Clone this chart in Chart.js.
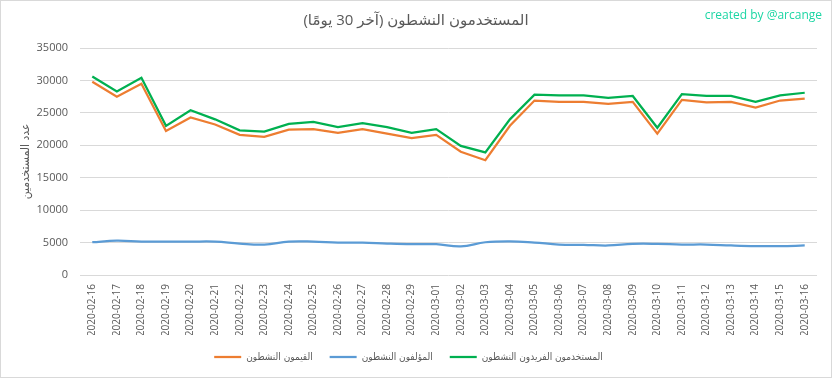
<!DOCTYPE html>
<html><head><meta charset="utf-8">
<script src="https://cdn.jsdelivr.net/npm/chart.js@4.4.0/dist/chart.umd.min.js"></script>
<style>html,body{margin:0;padding:0;background:#fff}canvas{display:block}</style>
</head><body>
<canvas id="c" width="833" height="379"></canvas>
<script>
const dates = ['2020-02-16','2020-02-17','2020-02-18','2020-02-19','2020-02-20','2020-02-21','2020-02-22','2020-02-23','2020-02-24','2020-02-25','2020-02-26','2020-02-27','2020-02-28','2020-02-29','2020-03-01','2020-03-02','2020-03-03','2020-03-04','2020-03-05','2020-03-06','2020-03-07','2020-03-08','2020-03-09','2020-03-10','2020-03-11','2020-03-12','2020-03-13','2020-03-14','2020-03-15','2020-03-16'];
const activeCurators = [29800,27500,29500,22200,24300,23200,21600,21300,22400,22500,21900,22500,21800,21100,21600,19000,17700,23000,26900,26700,26700,26400,26700,21800,27000,26600,26700,25800,26900,27200];
const activeAuthors = [5050,5300,5150,5150,5150,5150,4850,4700,5150,5150,5000,5000,4850,4750,4750,4400,5050,5200,5000,4700,4650,4550,4800,4800,4700,4700,4550,4450,4450,4550];
const uniqueActiveUsers = [30600,28300,30400,23000,25400,24000,22300,22100,23300,23600,22800,23400,22800,21900,22500,19900,18900,24000,27800,27700,27700,27300,27600,22700,27900,27600,27600,26700,27700,28100];
const yTickValues = [0,5000,10000,15000,20000,25000,30000,35000];
const seriesNames = ['القيمون النشطون','المؤلفون النشطون','المستخدمون الفريدون النشطون'];
const chartTitle = 'المستخدمون النشطون (آخر 30 يومًا)';
const yAxisTitle = 'عدد المستخدمين';
const watermark = 'created by @arcange';

const LATIN = "'Open Sans', 'DejaVu Sans', sans-serif";
const ARABIC = "'DejaVu Sans Condensed', 'Open Sans', 'DejaVu Sans', sans-serif";
const GREY = '#595959';

const decor = {
  id: 'decor',
  beforeDraw(chart) {
    const ctx = chart.ctx;
    ctx.save();
    ctx.fillStyle = '#fff';
    ctx.fillRect(0, 0, chart.width, chart.height);
    ctx.restore();
  },
  afterDraw(chart) {
    const ctx = chart.ctx;
    ctx.save();
    ctx.strokeStyle = '#d9d9d9';
    ctx.lineWidth = 1;
    ctx.strokeRect(0.5, 0.5, 831, 377);
    ctx.direction = 'rtl';
    ctx.fillStyle = GREY;
    ctx.font = "15px " + LATIN;
    ctx.textAlign = 'center';
    ctx.textBaseline = 'middle';
    ctx.fillText(chartTitle, 416, 21);
    ctx.direction = 'ltr';
    ctx.fillStyle = '#1cd6a4';
    ctx.font = "12px " + LATIN;
    ctx.textAlign = 'right';
    ctx.textBaseline = 'alphabetic';
    ctx.fillText(watermark, 822, 19);
    ctx.restore();
  }
};

new Chart(document.getElementById('c'), {
  type: 'line',
  data: {
    labels: dates,
    datasets: [
      { label: seriesNames[0], data: activeCurators, borderColor: '#ED7D31', backgroundColor: '#ED7D31', borderWidth: 2.25, pointRadius: 0, tension: 0 },
      { label: seriesNames[1], data: activeAuthors, borderColor: '#5B9BD5', backgroundColor: '#5B9BD5', borderWidth: 2.25, pointRadius: 0, tension: 0.4 },
      { label: seriesNames[2], data: uniqueActiveUsers, borderColor: '#00B050', backgroundColor: '#00B050', borderWidth: 2.25, pointRadius: 0, tension: 0 }
    ]
  },
  options: {
    responsive: false,
    animation: false,
    devicePixelRatio: 1,
    layout: { padding: { top: 48, left: 0, right: 16, bottom: 14 } },
    plugins: {
      title: { display: false },
      tooltip: { enabled: false },
      legend: {
        position: 'bottom',
        maxHeight: 30,
        labels: {
          usePointStyle: true,
          pointStyle: 'line',
          pointStyleWidth: 27,
          boxHeight: 10,
          padding: 17,
          color: GREY,
          font: { size: 10, family: ARABIC }
        }
      }
    },
    scales: {
      x: {
        offset: true,
        grid: { display: false, drawTicks: false },
        border: { display: false },
        ticks: { autoSkip: false, minRotation: 90, maxRotation: 90, padding: 9, color: GREY, font: { size: 10, family: LATIN } },
        afterFit(s) { s.height = 60; }
      },
      y: {
        min: 0, max: 35000,
        afterBuildTicks(s) { s.ticks = yTickValues.map(v => ({ value: v })); },
        grid: { color: '#d9d9d9', drawTicks: false, lineWidth: 1 },
        border: { display: false },
        ticks: { padding: 12, color: GREY, font: { size: 11, family: LATIN }, callback: v => String(v) },
        title: { display: true, text: yAxisTitle, color: GREY, font: { size: 12, family: ARABIC }, padding: { top: 19, bottom: 0 } },
        afterFit(s) { s.width = 80; }
      }
    }
  },
  plugins: [decor]
});
</script>
</body></html>
